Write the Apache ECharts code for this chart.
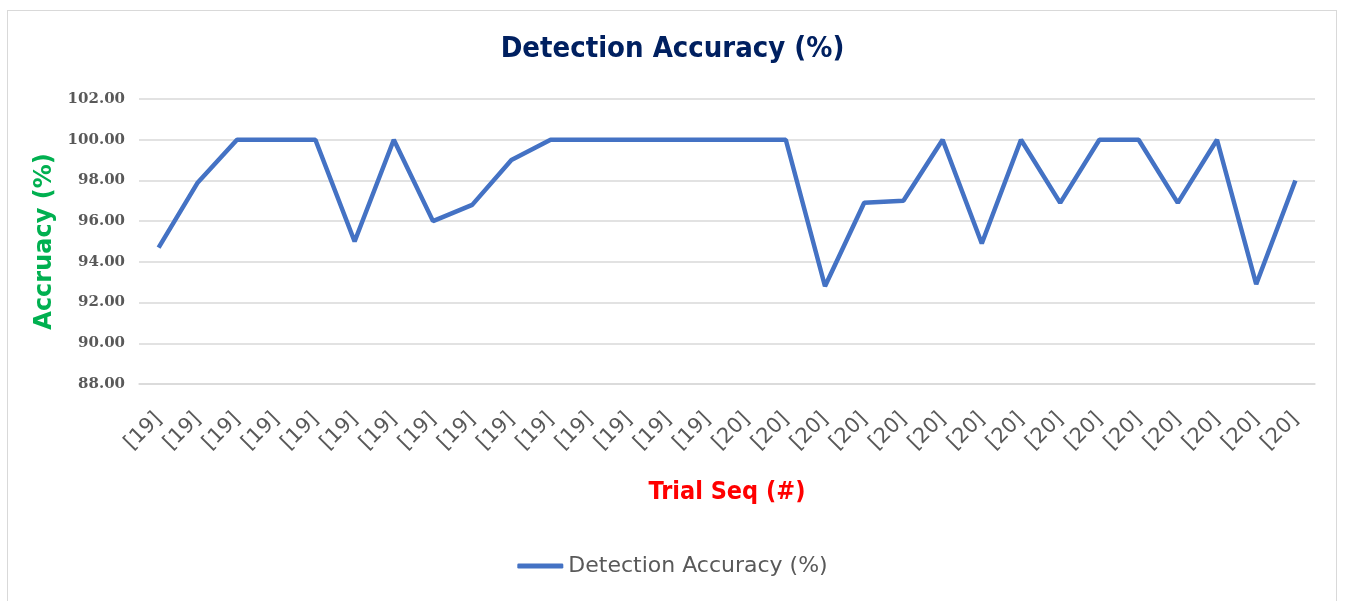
<!DOCTYPE html>
<html>
<head>
<meta charset="utf-8">
<script src="https://cdn.jsdelivr.net/npm/echarts@6/dist/echarts.min.js"></script>
<style>
html,body{margin:0;padding:0;background:#fff;}
#frame{position:absolute;left:7px;top:10px;width:1330px;height:600px;border:1px solid #d9d9d9;box-sizing:border-box;}
#chart{position:absolute;left:0;top:0;width:1345px;height:601px;}
</style>
</head>
<body>
<div id="frame"></div>
<div id="chart"></div>
<script>
const categories = ['[19]','[19]','[19]','[19]','[19]','[19]','[19]','[19]','[19]','[19]','[19]','[19]','[19]','[19]','[19]',
  '[20]','[20]','[20]','[20]','[20]','[20]','[20]','[20]','[20]','[20]','[20]','[20]','[20]','[20]','[20]'];
const accuracy = [94.7, 97.9, 100, 100, 100, 95.0, 100, 96.0, 96.8, 99.0, 100, 100, 100, 100, 100,
  100, 100, 92.8, 96.9, 97.0, 100, 94.9, 100, 96.9, 100, 100, 96.9, 100, 92.9, 98.0];
const yMin = 88, yMax = 102, yStep = 2;

const chart = echarts.init(document.getElementById('chart'), null, {renderer: 'canvas'});
chart.setOption({
  backgroundColor: 'transparent',
  animation: false,
  title: {
    text: 'Detection Accuracy (%)',
    left: 'center',
    top: 30,
    textStyle: {fontFamily: 'DejaVu Sans Condensed', fontWeight: 'bold', fontSize: 29, color: '#002060'}
  },
  legend: {
    data: ['Detection Accuracy (%)'],
    left: 'center',
    top: 550,
    icon: 'roundRect',
    itemWidth: 46,
    itemHeight: 5,
    itemGap: 5,
    textStyle: {fontFamily: 'DejaVu Sans', fontSize: 22, color: '#595959'}
  },
  grid: {left: 139, right: 30, top: 99, bottom: 217, containLabel: false},
  xAxis: {
    type: 'category',
    data: categories,
    boundaryGap: true,
    name: 'Trial Seq (#)',
    nameLocation: 'middle',
    nameGap: 96,
    nameTextStyle: {fontFamily: 'DejaVu Sans Condensed', fontWeight: 'bold', fontSize: 25, color: '#FF0000'},
    axisLine: {show: true, lineStyle: {color: '#d9d9d9', width: 1.5}},
    axisTick: {show: false},
    axisLabel: {interval: 0, rotate: 45, margin: 32, fontFamily: 'DejaVu Sans', fontSize: 21, color: '#595959'}
  },
  yAxis: {
    type: 'value',
    min: yMin,
    max: yMax,
    interval: yStep,
    name: 'Accruacy (%)',
    nameLocation: 'middle',
    nameGap: 76,
    nameTextStyle: {fontFamily: 'DejaVu Sans', fontWeight: 'bold', fontSize: 24, color: '#00B050'},
    axisLine: {show: false},
    axisTick: {show: false},
    splitLine: {lineStyle: {color: '#d9d9d9', width: 1.5}},
    axisLabel: {margin: 14, fontFamily: 'DejaVu Serif', fontWeight: 'bold', fontSize: 15, color: '#595959',
      formatter: v => v.toFixed(2)}
  },
  series: [{
    name: 'Detection Accuracy (%)',
    type: 'line',
    data: accuracy,
    showSymbol: false,
    symbol: 'none',
    lineStyle: {color: '#4472C4', width: 4.5},
    itemStyle: {color: '#4472C4'}
  }]
});
</script>
</body>
</html>
